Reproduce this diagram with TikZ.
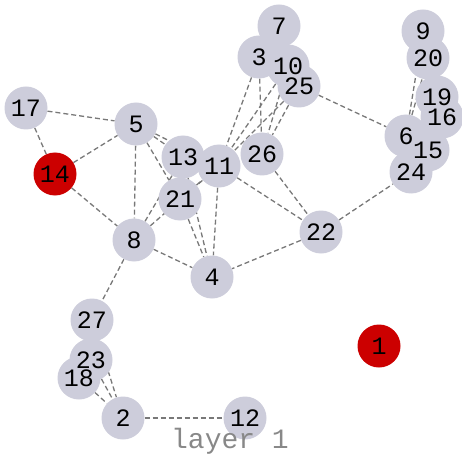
\documentclass[tikz,border=0pt]{standalone}
\usepackage{fontspec}
\usepackage{tikz}
\usetikzlibrary{positioning}
\newfontfamily\monofont{Liberation Mono}
\definecolor{dotgray}{RGB}{205,205,219}
\definecolor{dotred}{RGB}{204,0,0}
\definecolor{linkgray}{RGB}{120,120,120}
\definecolor{capgray}{RGB}{136,136,136}
\pgfdeclarelayer{bg}
\pgfsetlayers{bg,main}

\begin{document}
\begin{tikzpicture}[
    x=1pt, y=-1pt,
    dot/.style={circle, fill=dotgray, minimum size=43pt, inner sep=0pt},
    hot/.style={dot, fill=dotred},
    tag/.style={font=\monofont\fontsize{25}{25}\selectfont, inner sep=0pt},
    link/.style={draw=linkgray, line width=1.3pt, dash pattern=on 5pt off 3pt}
]
\useasboundingbox (0,0) rectangle (462,454);

% Circles (labels come later, so no text gets covered)
\foreach \id/\px/\py in {7/279/26, 3/259/57, 10/288/66, 25/299/86,
    9/423/31, 20/428/58, 19/437/97, 16/442/117, 6/406/136, 15/428/150, 24/411/172,
    17/26/108, 5/136/124, 13/183/157, 11/219/166, 26/262/154, 21/180/199,
    8/134/240, 4/212/277, 22/321/232, 27/92/320, 23/91/360, 18/79/378,
    2/123/418, 12/245/418}
    \node[dot] (n\id) at (\px,\py) {};
\node[hot] (n14) at (55,174) {};
\node[hot] (n1) at (379,346) {};

% Links
\begin{pgfonlayer}{bg}
\foreach \a/\b in {17/5, 17/14, 14/5, 14/8, 5/8, 5/13, 5/11, 5/21,
    8/13, 8/11, 21/11, 8/4, 8/27, 21/4, 13/4, 11/4, 11/22, 26/22, 22/4,
    22/24, 25/6, 3/11, 3/26, 10/11, 25/11, 10/26, 25/26, 6/9, 6/20,
    27/2, 23/2, 18/2, 2/12}
    \draw[link] (n\a) -- (n\b);
\end{pgfonlayer}

% Labels
\foreach \id in {1,...,27}
    \node[tag] (t\id) at (n\id) {\id};

\node[font=\monofont\fontsize{28}{28}\selectfont, text=capgray, anchor=base] (cap) at (230,448) {layer 1};
\end{tikzpicture}
\end{document}
